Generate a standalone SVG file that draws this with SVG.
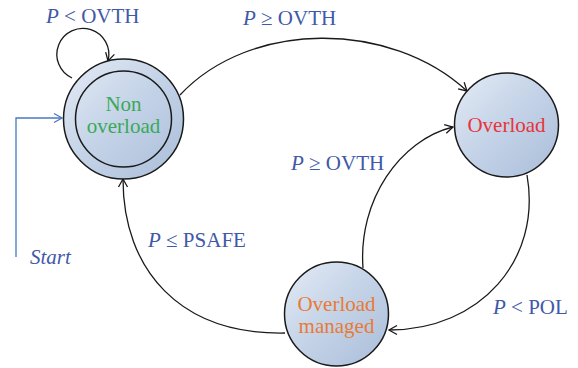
<svg xmlns="http://www.w3.org/2000/svg" width="578" height="368" viewBox="0 0 578 368">
<style>
.node{fill:url(#g);stroke:#1a1a1a;stroke-width:1.5}
.ring{fill:none;stroke:#1a1a1a;stroke-width:1.5}
.edge{fill:none;stroke:#1a1a1a;stroke-width:1.3;marker-end:url(#a)}
.nt{font-family:"Liberation Serif",serif;font-size:21px;text-anchor:middle}
.lb{font-family:"Liberation Serif",serif;font-size:21px;fill:#3f59a8}
.lb tspan.i{font-style:italic}
</style>
<defs>
<linearGradient id="g" x1="0" y1="0" x2="1" y2="1">
<stop offset="0" stop-color="#e4ebf5"/>
<stop offset="0.5" stop-color="#c3d2e7"/>
<stop offset="1" stop-color="#aabed9"/>
</linearGradient>
<marker id="a" viewBox="0 0 12 12" refX="10" refY="6" markerWidth="12" markerHeight="12" markerUnits="userSpaceOnUse" orient="auto">
<path d="M2 1.5 L10 6 L2 10.5" fill="none" stroke="#1a1a1a" stroke-width="1.3"/>
</marker>
<marker id="b" viewBox="0 0 12 12" refX="10" refY="6" markerWidth="12" markerHeight="12" markerUnits="userSpaceOnUse" orient="auto">
<path d="M2 1.5 L10 6 L2 10.5" fill="none" stroke="#4a78c0" stroke-width="1.3"/>
</marker>
</defs>
<g id="connectors">
<path class="edge" d="M72 78 A26 26 0 1 1 108 61"/>
<path class="edge" d="M180 95 C250 20 390 20 467 91"/>
<path class="edge" d="M363 268 C358 200 400 140 453 127"/>
<path class="edge" d="M527 175 C542 260 480 330 389 330"/>
<path class="edge" d="M285 333 C180 335 123 270 123 179"/>
<path d="M16 257 V118 H62" fill="none" stroke="#4a78c0" stroke-width="1.3" marker-end="url(#b)"/>
</g>
<g id="non-overload">
<circle class="node" cx="123.5" cy="119" r="60"/>
<circle class="ring" cx="123.5" cy="119" r="48"/>
<text class="nt" fill="#3aa95a" x="123.5" y="111">Non</text>
<text class="nt" fill="#3aa95a" x="123.5" y="133">overload</text>
</g>
<g id="overload">
<circle class="node" cx="506.5" cy="125" r="52"/>
<text class="nt" fill="#e8343a" x="506.5" y="131.5">Overload</text>
</g>
<g id="overload-managed">
<circle class="node" cx="336.5" cy="314" r="52"/>
<text class="nt" fill="#e87a35" x="336.5" y="311">Overload</text>
<text class="nt" fill="#e87a35" x="336.5" y="333">managed</text>
</g>
<g id="labels">
<text class="lb" x="46" y="23"><tspan class="i">P</tspan> &lt; OVTH</text>
<text class="lb" x="243" y="25"><tspan class="i">P</tspan> ≥ OVTH</text>
<text class="lb" x="291" y="170"><tspan class="i">P</tspan> ≥ OVTH</text>
<text class="lb" x="148" y="247"><tspan class="i">P</tspan> ≤ PSAFE</text>
<text class="lb" x="493" y="314"><tspan class="i">P</tspan> &lt; POL</text>
<text class="lb" x="30" y="264" font-style="italic" font-size="18">Start</text>
</g>
</svg>
